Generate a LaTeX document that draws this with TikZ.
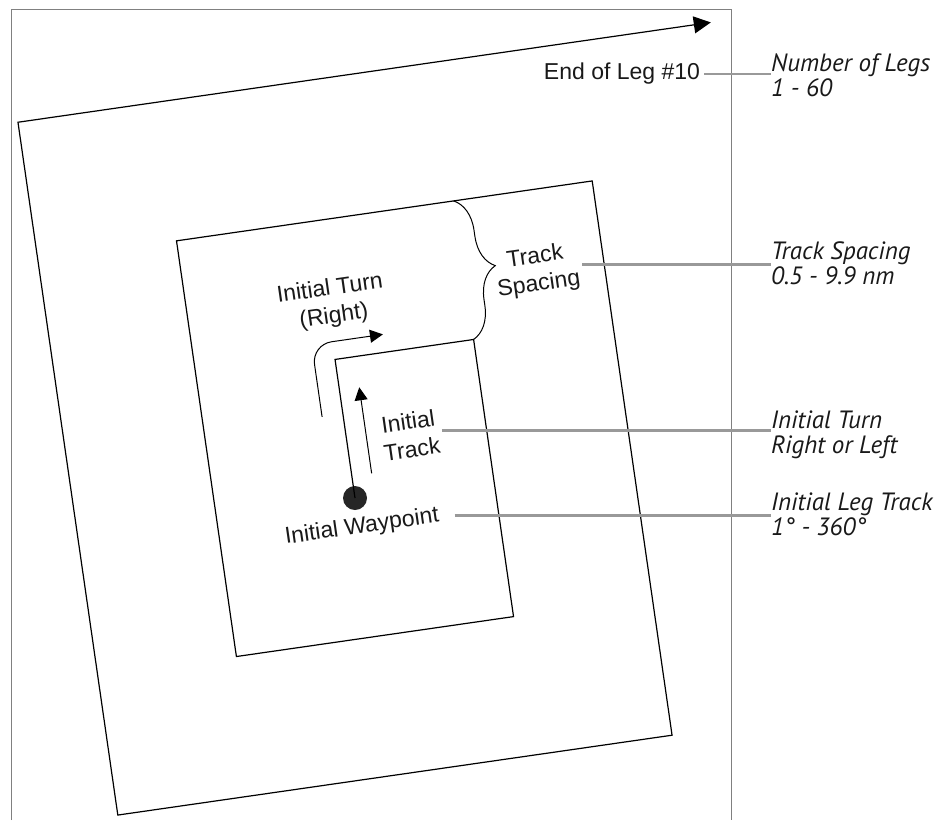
\documentclass[tikz,border=0pt]{standalone}
\usepackage{fontspec}
\setmainfont{Liberation Sans}
\newfontfamily\notefont{PT Sans}
\usetikzlibrary{arrows.meta,decorations.pathreplacing}

\tikzset{
  leg/.style={line width=1.2pt,line join=miter},
  cue/.style={line width=1pt},
  lead/.style={draw=black!40,line width=2.5pt},
  lab/.style={font=\fontsize{23}{28}\selectfont,align=center,inner sep=0pt,outer sep=4pt,text=black!90},
  note/.style={font=\notefont\itshape\fontsize{25}{25}\selectfont,align=left,inner sep=0pt,anchor=north west,text=black!90}
}

\begin{document}
\begin{tikzpicture}[x=1pt,y=-1pt]
        \useasboundingbox (0,0) rectangle (937,820);
        %外框
        \draw [black!50,line width=1pt] (11,820) -- (11,9.5) -- (731,9.5) -- (731,820);
        %航线
        \begin{scope}[shift={(355,498)},rotate=8.2]
            \node [circle,fill=black!85,minimum size=24pt,inner sep=0pt] (wp) at (0,0) {};
            \draw [leg][-{Triangle[length=17pt,width=17pt]}] (wp.center) -- ++(0,-140) coordinate (c1) -- ++(140,0) coordinate (c2) -- ++(0,280) -- ++(-280,0) -- ++(0,-420) -- ++(420,0) -- ++(0,560) -- ++(-560,0) -- ++(0,-700) -- ++(700,0) coordinate (c10);
            %转弯、初始航迹箭头
            \coordinate (t0) at (-21,-85);
            \coordinate (t1) at (-21,-158);
            \coordinate (t2) at (51,-158);
            \draw [cue,rounded corners=20pt][-{Triangle[length=13pt,width=13pt]}] (t0) -- (t1) -- (t2);
            \coordinate (a0) at (20,-22);
            \coordinate (a1) at (20,-109);
            \draw [cue][-{Triangle[length=13pt,width=13pt]}] (a0) -- (a1);
            %航迹间距
            \coordinate (b0) at (140,-280);
            \draw [cue,decorate,decoration={brace,amplitude=32pt}] (b0) -- (c2);
        \end{scope}
        %标注
        \node [lab,rotate=8.2] (turn) at (332,303) {Initial Turn\\(Right)};
        \node [lab,rotate=8.2] (tsp) at (537,271) {Track\\Spacing};
        \node [lab,rotate=8.2] (itr) at (410,435) {Initial\\Track};
        \node [lab,rotate=8.2] (wpl) at (362,527) {Initial Waypoint};
        \node [lab,anchor=east] (end) at (704,74) {End of Leg \#10};
        %右侧说明
        \node [note] (nlegs) at (771,53) {Number of Legs\\1 - 60};
        \node [note] (nsp) at (771,241) {Track Spacing\\0.5 - 9.9 nm};
        \node [note] (nturn) at (771,411) {Initial Turn\\Right or Left};
        \node [note] (ntrk) at (771,493) {Initial Leg Track\\1° - 360°};
        %引线
        \draw [lead] (end.east) -- (end.east -| nlegs.west);
        \draw [lead] (tsp.east) -- (tsp.east -| nsp.west);
        \draw [lead] (itr.east) -- (itr.east -| nturn.west);
        \draw [lead] ([xshift=12pt]wpl.east) -- (wpl.east -| ntrk.west);
    \end{tikzpicture}
\end{document}
